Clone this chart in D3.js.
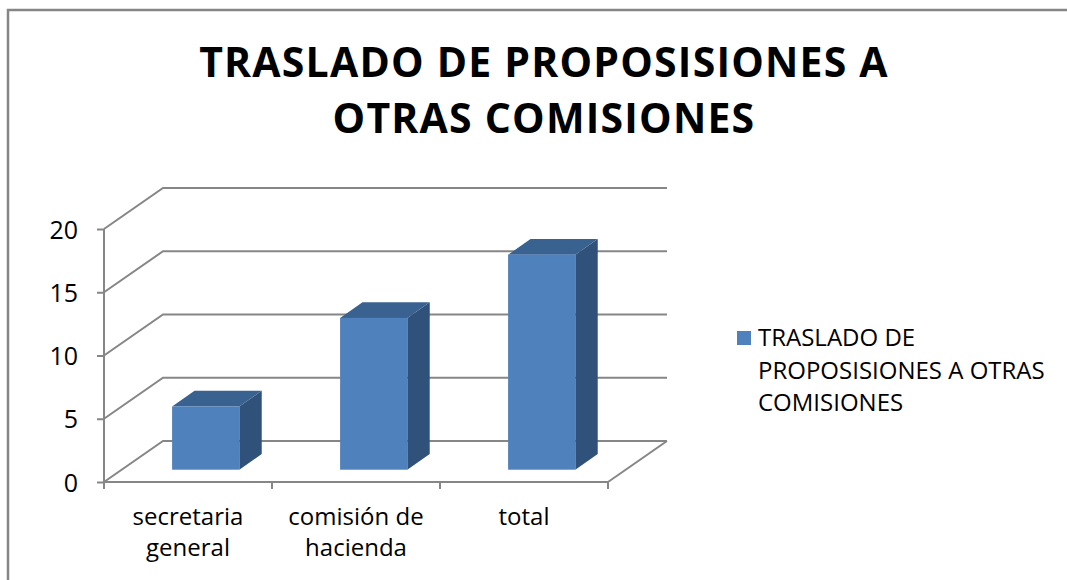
<!DOCTYPE html>
<html>
<head>
    <meta charset="utf-8">
    <title>Traslado de proposisiones a otras comisiones</title>
    <script src="https://d3js.org/d3.v7.min.js"></script>
    <style>
        body { margin: 0; background: #fff; }
        text { font-family: "Open Sans", sans-serif; fill: #000; }
    </style>
</head>
<body>
    <div id="chart"></div>
    <script>
        // data
        var categories = ["secretaria general", "comisión de hacienda", "total"];
        var categoryLines = [["secretaria", "general"], ["comisión de", "hacienda"], ["total"]];
        var values = [5, 12, 17];
        var yTicks = [0, 5, 10, 15, 20];
        var titleLines = ["TRASLADO DE PROPOSISIONES A", "OTRAS COMISIONES"];
        var seriesName = ["TRASLADO DE", "PROPOSISIONES A OTRAS", "COMISIONES"];

        var width = 1067, height = 580;
        var gridColor = "#868686";
        var depth = {dx: 59, dy: -41};      // wall depth of the 3d box
        var barDepth = [0.30, 0.68];        // bar front / back as fraction of depth

        var svg = d3.select("#chart")
            .append("svg")
                .attr("width", width)
                .attr("height", height);

        // chart border
        svg.append("rect")
            .attr("x", 8).attr("y", 10)
            .attr("width", 1080).attr("height", 600)
            .attr("fill", "none")
            .attr("stroke", gridColor)
            .attr("stroke-width", 2.5);

        var y = d3.scaleLinear()
            .domain([0, 20])
            .range([482, 229]);

        var x = d3.scaleBand()
            .domain(categories)
            .range([104, 608])
            .padding(0);

        var x0 = x.range()[0], x1 = x.range()[1];

        // gridlines: left wall diagonal + back wall
        var grid = svg.append("g")
            .attr("stroke", gridColor)
            .attr("stroke-width", 2)
            .attr("fill", "none");

        yTicks.forEach(function(t) {
            grid.append("path")
                .attr("d", "M" + x0 + "," + y(t) +
                           "L" + (x0 + depth.dx) + "," + (y(t) + depth.dy) +
                           "L" + (x1 + depth.dx) + "," + (y(t) + depth.dy));
        });
        // floor right edge
        grid.append("line")
            .attr("x1", x1).attr("y1", y(0))
            .attr("x2", x1 + depth.dx).attr("y2", y(0) + depth.dy);

        // y axis
        var yAxis = svg.append("g")
            .attr("transform", "translate(" + x0 + ",0)")
            .call(d3.axisLeft(y).tickValues(yTicks).tickSize(7).tickPadding(19));
        yAxis.selectAll("path, line").attr("stroke", gridColor).attr("stroke-width", 2);
        yAxis.select(".domain").attr("d", "M0," + y(20) + "V" + y(0));
        yAxis.selectAll("text")
            .style("font-family", "Open Sans")
            .style("font-size", "25px")
            .attr("fill", "#1a1a1a")
            .attr("dy", "0.36em");

        // x axis
        var xAxis = svg.append("g")
            .attr("transform", "translate(0," + y(0) + ")");
        xAxis.append("line")
            .attr("x1", x0).attr("x2", x1)
            .attr("stroke", gridColor).attr("stroke-width", 2);
        xAxis.selectAll(".tick")
            .data(categories.map(function(c) { return x(c); }).concat([x1]))
            .enter()
            .append("line")
                .attr("x1", function(d) { return d; })
                .attr("x2", function(d) { return d; })
                .attr("y1", 0).attr("y2", 7)
                .attr("stroke", gridColor).attr("stroke-width", 2);

        // category labels, one text per line
        categories.forEach(function(c, i) {
            categoryLines[i].forEach(function(line, j) {
                svg.append("text")
                    .attr("text-anchor", "middle")
                    .attr("x", x(c) + x.bandwidth() / 2)
                    .attr("y", 525 + j * 31)
                    .style("font-size", "24px")
                    .attr("fill", "#1a1a1a")
                    .text(line);
            });
        });

        // 3d bars
        var bw = x.bandwidth() * 0.4;
        var fx = barDepth[0] * depth.dx, fy = barDepth[0] * depth.dy;
        var bdx = (barDepth[1] - barDepth[0]) * depth.dx,
            bdy = (barDepth[1] - barDepth[0]) * depth.dy;

        var bars = svg.selectAll(".bar")
            .data(values)
            .enter()
            .append("g")
                .attr("class", "bar");

        bars.each(function(v, i) {
            var g = d3.select(this);
            var left = x(categories[i]) + x.bandwidth() / 2 - bw / 2 + fx;
            var right = left + bw;
            var top = y(v) + fy, bottom = y(0) + fy;

            // side
            g.append("path")
                .attr("d", "M" + right + "," + top + "L" + (right + bdx) + "," + (top + bdy) +
                           "L" + (right + bdx) + "," + (bottom + bdy) + "L" + right + "," + bottom + "Z")
                .attr("fill", "#30527a");
            // top
            g.append("path")
                .attr("d", "M" + left + "," + top + "L" + (left + bdx) + "," + (top + bdy) +
                           "L" + (right + bdx) + "," + (top + bdy) + "L" + right + "," + top + "Z")
                .attr("fill", "#3a6290");
            // front
            g.append("rect")
                .attr("x", left).attr("y", top)
                .attr("width", bw).attr("height", bottom - top)
                .attr("fill", "#4f81bd");
        });

        // title
        titleLines.forEach(function(line, j) {
            svg.append("text")
                .attr("text-anchor", "middle")
                .attr("x", 544)
                .attr("y", 77 + j * 56)
                .style("font-size", "41px")
                .style("font-weight", "bold")
                .style("letter-spacing", "1.2px")
                .text(line);
        });

        // legend
        svg.append("rect")
            .attr("x", 737).attr("y", 331)
            .attr("width", 14).attr("height", 14)
            .attr("fill", "#4f81bd");
        seriesName.forEach(function(line, j) {
            svg.append("text")
                .attr("x", 758)
                .attr("y", 346 + j * 32.5)
                .style("font-size", "24px")
                .attr("fill", "#1a1a1a")
                .text(line);
        });
    </script>
</body>
</html>
